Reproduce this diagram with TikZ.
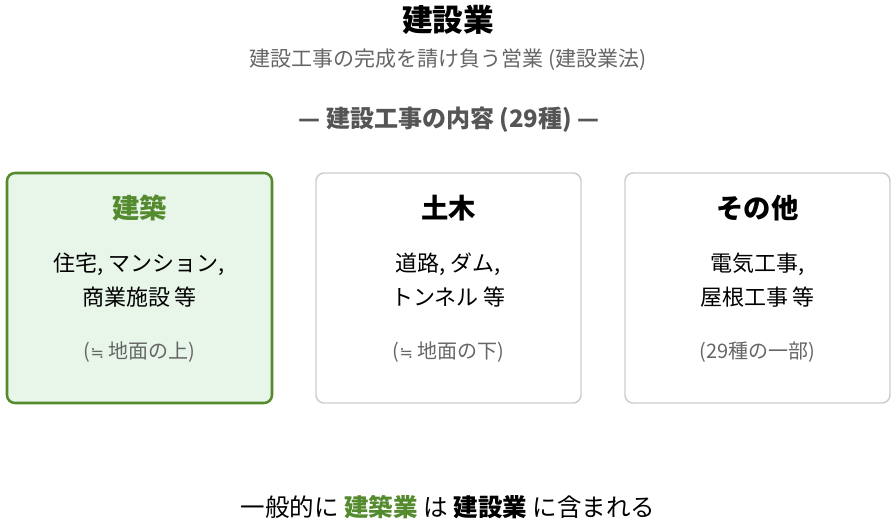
\documentclass[tikz,border=0pt]{standalone}
\usepackage{fontspec}
\setmainfont{Noto Sans CJK JP}
\newfontfamily\symfont{DejaVu Sans}
\usepackage{tikz}
\usetikzlibrary{calc}
\definecolor{kgreen}{HTML}{558B2F}
\definecolor{kfill}{HTML}{E8F5E9}
\definecolor{kgray}{HTML}{666666}
\definecolor{khead}{HTML}{555555}
\definecolor{kline}{HTML}{CCCCCC}
\newcommand{\approxeq}{{\symfont\fontsize{12}{18}\selectfont ≒}}
\tikzset{
  field/.style={draw=kline, line width=1.1pt, rounded corners=6pt,
    minimum width=198.75pt, minimum height=172.5pt, inner sep=0pt},
  mainfield/.style={field, draw=kgreen, fill=kfill, line width=1.9pt},
  fieldtitle/.style={font=\fontsize{20.5}{24}\selectfont\bfseries},
  fieldbody/.style={align=center, font=\fontsize{16.5}{25.5}\selectfont},
  fieldnote/.style={text=kgray, font=\fontsize{15}{18}\selectfont}
}

\begin{document}
\begin{tikzpicture}[x=0.75pt,y=-0.75pt]
  \useasboundingbox (0,0) rectangle (896,525);
  % heading
  \node [font=\fontsize{23}{27}\selectfont\bfseries] (title) at (448,20) {建設業};
  \node [text=kgray, font=\fontsize{15.75}{19}\selectfont] (sub) at (448,60)
    {建設工事の完成を請け負う営業 (建設業法)};
  \node [text=khead, font=\fontsize{18}{22}\selectfont\bfseries] (kind) at (449,120)
    {— 建設工事の内容 (29種) —};
  % three fields
  \node [mainfield] (arch) at (139.5,288) {};
  \node [field] (civil) at (448.5,288) {};
  \node [field] (other) at (757.5,288) {};
  \node [fieldtitle, text=kgreen] (archT) at (139.5,208) {建築};
  \node [fieldtitle] (civilT) at (448.5,208) {土木};
  \node [fieldtitle] (otherT) at (757.5,208) {その他};
  \node [fieldbody] (archB) at (139.5,280) {住宅, マンション,\\商業施設 等};
  \node [fieldbody] (civilB) at (448.5,280) {道路, ダム,\\トンネル 等};
  \node [fieldbody] (otherB) at (757.5,280) {電気工事,\\屋根工事 等};
  \node [fieldnote] (archN) at (139.5,352) {(\approxeq\ 地面の上)};
  \node [fieldnote] (civilN) at (448.5,352) {(\approxeq\ 地面の下)};
  \node [fieldnote] (otherN) at (757.5,352) {(29種の一部)};
  % conclusion
  \node [font=\fontsize{18.4}{22}\selectfont] (note) at (448,507)
    {一般的に \textbf{\textcolor{kgreen}{建築業}} は \textbf{建設業} に含まれる};
\end{tikzpicture}
\end{document}
